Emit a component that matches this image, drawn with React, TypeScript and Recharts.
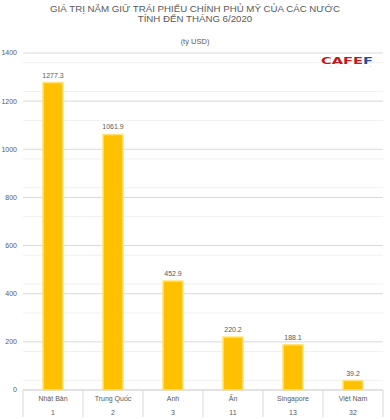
import React from "react";
import { BarChart, Bar, XAxis, YAxis, CartesianGrid, LabelList } from "recharts";

const countries = ["Nhật Bản", "Trung Quốc", "Anh", "Ấn", "Singapore", "Việt Nam"];
const ranks = ["1", "2", "3", "11", "13", "32"];
const holdings = [1277.3, 1061.9, 452.9, 220.2, 188.1, 39.2];
const majorTicks = [0, 200, 400, 600, 800, 1000, 1200, 1400];
const minorStep = 40;
const minorTicks: number[] = [];
for (let v = minorStep; v < 1400; v += minorStep) if (v % 200 !== 0) minorTicks.push(v);

const data = countries.map((c, i) => ({ name: c, rank: ranks[i], value: holdings[i] }));

const W = 390;
const H = 420;
const M = { top: 53, right: 7, bottom: 0, left: 0 };
const YW = 23;
const XH = 30;
const band = (W - M.left - M.right - YW) / data.length;
const FONT = "'Liberation Sans', Arial, sans-serif";

const XTick = (props: any) => {
  const { x, y, payload, index } = props;
  const d = data[index] || data.find((r) => r.name === payload.value);
  const half = band / 2;
  return (
    <g>
      <line x1={x - half} x2={x - half} y1={y - 10} y2={y + 17} stroke="#d9d9d9" strokeWidth={1} />
      {index === data.length - 1 && (
        <line x1={x + half} x2={x + half} y1={y - 10} y2={y + 17} stroke="#d9d9d9" strokeWidth={1} />
      )}
      <text x={x} y={y + 1} textAnchor="middle" fontSize={7} fill="#595959" fontFamily={FONT}>
        {payload.value}
      </text>
      <text x={x} y={y + 15} textAnchor="middle" fontSize={7} fill="#595959" fontFamily={FONT}>
        {d ? d.rank : ""}
      </text>
    </g>
  );
};

export default function App() {
  return (
    <div style={{ position: "absolute", left: 0, top: 0, width: W, height: H, background: "#fff" }}>
      <svg width={W} height={50} style={{ position: "absolute", left: 0, top: 0 }}>
        <text x={195} y={12} textAnchor="middle" fontSize={9.7} fill="#595959" fontFamily={FONT}>
          GIÁ TRỊ NẮM GIỮ TRÁI PHIẾU CHÍNH PHỦ MỸ CỦA CÁC NƯỚC
        </text>
        <text x={195} y={22} textAnchor="middle" fontSize={9.7} fill="#595959" fontFamily={FONT}>
          TÍNH ĐẾN THÁNG 6/2020
        </text>
        <text x={195} y={44} textAnchor="middle" fontSize={7.5} fill="#595959" fontFamily={FONT}>
          (tỷ USD)
        </text>
      </svg>
      <BarChart width={W} height={H} data={data} margin={M} barSize={20}>
        <CartesianGrid vertical={false} horizontalValues={minorTicks} stroke="#f0f0f0" />
        <CartesianGrid vertical={false} horizontalValues={majorTicks} stroke="#d9d9d9" />
        <XAxis
          dataKey="name"
          height={XH}
          axisLine={{ stroke: "#d9d9d9" }}
          tickLine={false}
          tick={<XTick />}
          tickMargin={4}
          interval={0}
        />
        <YAxis
          width={YW}
          domain={[0, 1400]}
          ticks={majorTicks}
          axisLine={false}
          tickLine={false}
          tickSize={0}
          tickMargin={6}
          tick={{ fontSize: 7, fill: "#595959", fontFamily: FONT }}
        />
        <Bar dataKey="value" fill="#FFC000" stroke="#FFE37A" strokeWidth={1.5} isAnimationActive={false}>
          <LabelList
            dataKey="value"
            position="top"
            offset={5}
            formatter={(v: any) => Number(v).toFixed(1)}
            style={{ fontSize: 7, fill: "#595959", fontFamily: FONT }}
          />
        </Bar>
      </BarChart>
      <svg width={80} height={20} style={{ position: "absolute", left: 310, top: 50 }}>
        <text x={11} y={14} fontSize={9.5} fontWeight={900} fill="#C4161C" fontFamily="'DejaVu Sans', sans-serif" textLength={52} lengthAdjust="spacingAndGlyphs">
          CAFE<tspan fill="#1F4E9A">F</tspan>
        </text>
        <text x={13} y={17} fontSize={2.5} fill="#aaa" fontFamily={FONT} textLength={48} lengthAdjust="spacing">
          cafef.vn
        </text>
      </svg>
    </div>
  );
}
